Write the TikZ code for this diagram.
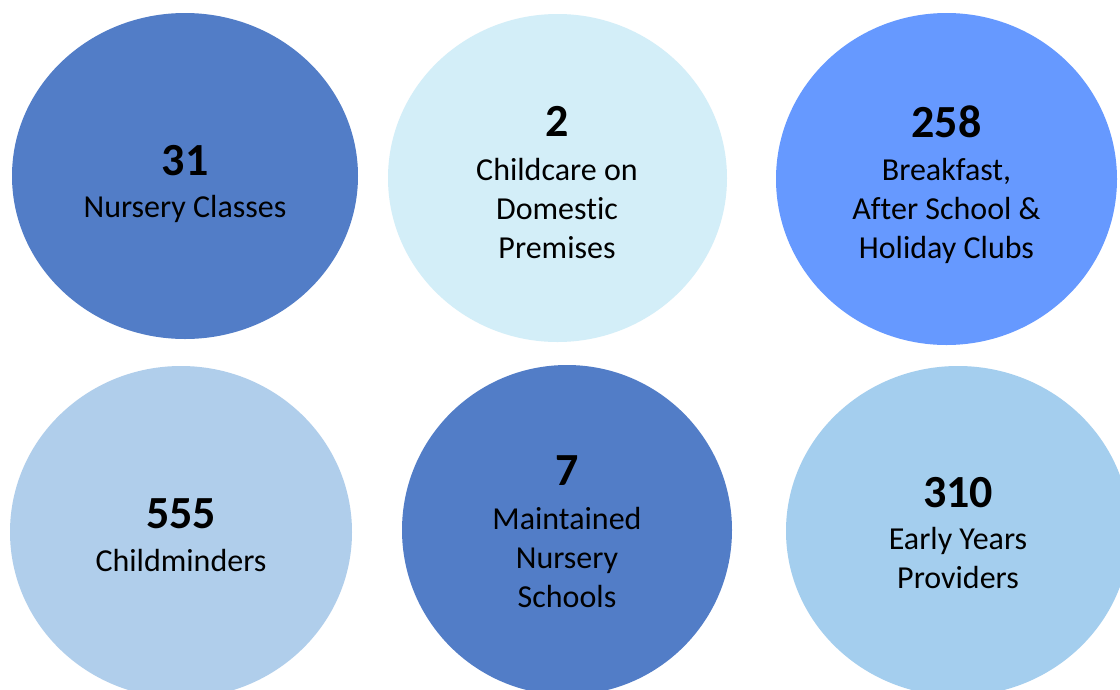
\documentclass[tikz,border=0pt]{standalone}
\usepackage{fontspec}
\setmainfont[Ligatures={NoCommon,NoDiscretionary}]{Carlito}
\usetikzlibrary{shapes.geometric}
\definecolor{midblue}{HTML}{527DC7}
\definecolor{paleblue}{HTML}{D3EEF8}
\definecolor{brightblue}{HTML}{6699FF}
\definecolor{softblue}{HTML}{B0CEEB}
\definecolor{skyblue}{HTML}{A4CEEE}
\tikzset{
  bubble/.style={ellipse, draw=none, inner sep=0pt},
  numtext/.style={anchor=base, inner sep=0pt, font=\fontsize{46}{50}\selectfont\bfseries},
  labtext/.style={anchor=base, inner sep=0pt, align=center, font=\fontsize{32}{39}\selectfont}
}
\begin{document}
\begin{tikzpicture}[x=1pt,y=-1pt]
\useasboundingbox (0,0) rectangle (1120,689);
\fill[white] (0,0) rectangle (1120,689);
% circles
\node[bubble, fill=midblue, minimum width=346pt, minimum height=326pt] (c1) at (185,176) {};
\node[bubble, fill=paleblue, minimum width=339pt, minimum height=328pt] (c2) at (557.5,178) {};
\node[bubble, fill=brightblue, minimum width=341pt, minimum height=332pt] (c3) at (946.5,179) {};
\node[bubble, fill=softblue, minimum width=342pt, minimum height=332pt] (c4) at (181,532) {};
\node[bubble, fill=midblue, minimum width=330pt, minimum height=330pt] (c5) at (567,530) {};
\node[bubble, fill=skyblue, minimum width=344pt, minimum height=330pt] (c6) at (958,531) {};
% texts (label anchors are at the baseline of the last line)
\node[numtext] (n1) at (185,175) {31};
\node[labtext] (l1) at (185,217) {Nursery Classes};
\node[numtext] (n2) at (557,136) {2};
\node[labtext] (l2) at (557,258) {Childcare on\\Domestic\\Premises};
\node[numtext] (n3) at (946.5,137) {258};
\node[labtext] (l3) at (946.5,258) {Breakfast,\\After School \&\\Holiday Clubs};
\node[numtext] (n4) at (181,528) {555};
\node[labtext] (l4) at (181,571) {Childminders};
\node[numtext] (n5) at (567,485) {7};
\node[labtext] (l5) at (567,607) {Maintained\\Nursery\\Schools};
\node[numtext] (n6) at (958,507) {310};
\node[labtext] (l6) at (958,588) {Early Years\\Providers};
\end{tikzpicture}
\end{document}
